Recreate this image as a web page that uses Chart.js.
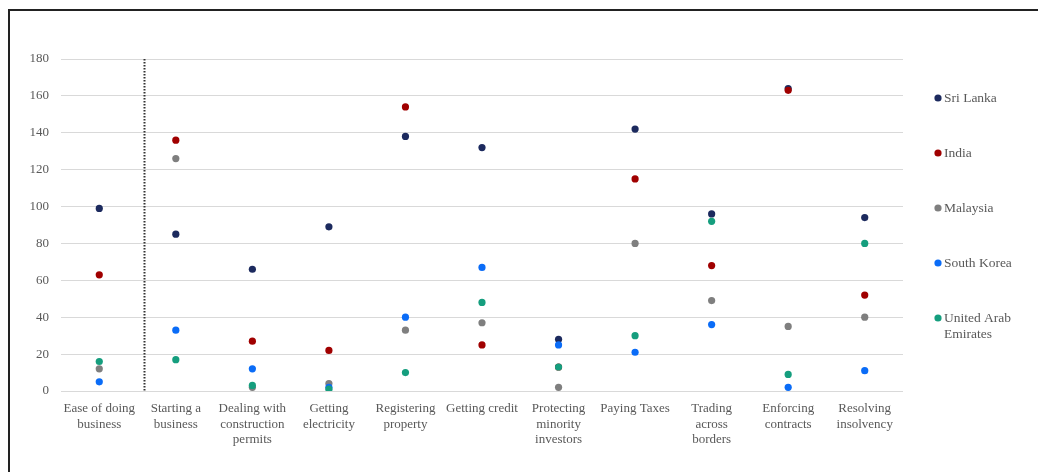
<!DOCTYPE html>
<html>
<head>
<meta charset="utf-8">
<script src="https://cdn.jsdelivr.net/npm/chart.js@4/dist/chart.umd.min.js"></script>
<style>
	html, body { margin: 0; padding: 0; background: #fff; }
	#wrap { position: absolute; left: 0; top: 0; width: 1038px; height: 472px; }
	#frame { position: absolute; left: 8px; top: 9px; right: -10px; bottom: -10px;
		border-top: 2px solid #222; border-left: 2px solid #222; pointer-events: none; }
</style>
</head>
<body>
<div id="wrap"><canvas id="chart"></canvas></div>
<div id="frame"></div>
<script>
// categories (Doing Business indicators)
const categories = [
	['Ease of doing', 'business'],
	['Starting a', 'business'],
	['Dealing with', 'construction', 'permits'],
	['Getting', 'electricity'],
	['Registering', 'property'],
	'Getting credit',
	['Protecting', 'minority', 'investors'],
	'Paying Taxes',
	['Trading', 'across', 'borders'],
	['Enforcing', 'contracts'],
	['Resolving', 'insolvency']
];

// ranks per country, same order as categories
const sriLanka    = [99, 85, 66, 89, 138, 132, 28, 142, 96, 164, 94];
const india       = [63, 136, 27, 22, 154, 25, 13, 115, 68, 163, 52];
const malaysia    = [12, 126, 2, 4, 33, 37, 2, 80, 49, 35, 40];
const southKorea  = [5, 33, 12, 2, 40, 67, 25, 21, 36, 2, 11];
const uae         = [16, 17, 3, 1, 10, 48, 13, 30, 92, 9, 80];

const yTicks = { min: 0, max: 180, step: 20 };

// dotted separator sits just after the first category
const DIVIDER_AT = 0.585;

const FONT = "'Liberation Serif', 'Times New Roman', serif";
const TEXT = '#595959';

function series(label, data, color, order) {
	return {
		label: label,
		data: data,
		showLine: false,
		pointRadius: 3.6,
		pointHoverRadius: 3.6,
		pointBorderWidth: 0,
		pointBackgroundColor: color,
		borderColor: color,
		backgroundColor: color,
		order: order
	};
}

// dotted vertical line between overall score and the sub-indicators
const dividerPlugin = {
	id: 'divider',
	afterDatasetsDraw(chart) {
		const x = Math.round(chart.scales.x.getPixelForValue(DIVIDER_AT)) + 0.5;
		const y = chart.scales.y;
		const ctx = chart.ctx;
		ctx.save();
		ctx.strokeStyle = '#333';
		ctx.lineWidth = 2;
		ctx.setLineDash([1.5, 1.5]);
		ctx.beginPath();
		ctx.moveTo(x, y.getPixelForValue(yTicks.max));
		ctx.lineTo(x, y.getPixelForValue(yTicks.min));
		ctx.stroke();
		ctx.restore();
	}
};

// legend on the right, widely spaced like the original
const sideLegend = {
	id: 'sideLegend',
	afterDraw(chart) {
		const ctx = chart.ctx;
		const area = chart.chartArea;
		const left = area.right + 35;
		const maxW = chart.width - left - 12;
		ctx.save();
		ctx.font = '13.5px ' + FONT;
		ctx.textBaseline = 'middle';
		chart.data.datasets.forEach((ds, i) => {
			const cy = area.top + 39 + i * 55;
			ctx.fillStyle = ds.pointBackgroundColor;
			ctx.beginPath();
			ctx.arc(left, cy, 3.6, 0, Math.PI * 2);
			ctx.fill();
			// wrap words that do not fit
			const lines = [];
			let line = '';
			ds.label.split(' ').forEach((w) => {
				const test = line ? line + ' ' + w : w;
				if (ctx.measureText(test).width > maxW && line) {
					lines.push(line);
					line = w;
				} else {
					line = test;
				}
			});
			lines.push(line);
			ctx.fillStyle = TEXT;
			lines.forEach((l, j) => ctx.fillText(l, left + 6, cy + j * 16));
		});
		ctx.restore();
	}
};

new Chart(document.getElementById('chart'), {
	type: 'line',
	data: {
		labels: categories,
		datasets: [
			series('Sri Lanka', sriLanka, '#1c2a5e', 5),
			series('India', india, '#a00000', 4),
			series('Malaysia', malaysia, '#7f7f7f', 3),
			series('South Korea', southKorea, '#0a6cf7', 2),
			series('United Arab Emirates', uae, '#159e7e', 1)
		]
	},
	options: {
		responsive: true,
		maintainAspectRatio: false,
		animation: false,
		layout: { padding: { left: 10, right: 135, top: 59, bottom: 0 } },
		plugins: {
			legend: { display: false },
			tooltip: { enabled: false }
		},
		scales: {
			x: {
				type: 'category',
				offset: true,
				grid: { display: false },
				border: { display: false },
				ticks: {
					font: { family: FONT, size: 13 },
					color: TEXT,
					padding: 2,
					maxRotation: 0,
					autoSkip: false
				},
				afterFit(scale) { scale.height = 81; }
			},
			y: {
				min: yTicks.min,
				max: yTicks.max,
				grid: { color: '#d9d9d9', drawTicks: false },
				border: { display: false },
				ticks: {
					stepSize: yTicks.step,
					font: { family: FONT, size: 13 },
					color: TEXT,
					padding: 12
				},
				afterFit(scale) { scale.width = 51; }
			}
		}
	},
	plugins: [dividerPlugin, sideLegend]
});
</script>
</body>
</html>
